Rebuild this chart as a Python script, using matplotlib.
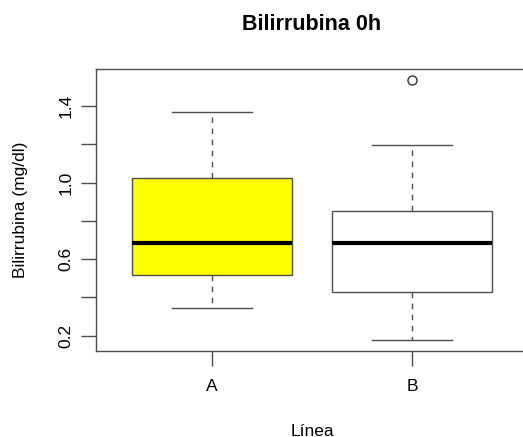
import matplotlib
matplotlib.use("Agg")
import matplotlib.pyplot as plt

categories = ["A", "B"]
q1 = [0.515, 0.430]
median = [0.686, 0.686]
q3 = [1.027, 0.854]
whislo = [0.345, 0.174]
whishi = [1.368, 1.197]
fliers = [[], [1.540]]
fill_colors = ["#FFFF00", "#FFFFFF"]
yticks = [0.2, 0.6, 1.0, 1.4]
yticks_minor = [0.4, 0.8, 1.2]

plt.rcParams['font.family'] = ['Liberation Sans', 'DejaVu Sans']

W, H = 523, 437
fig = plt.figure(figsize=(W/100, H/100), dpi=100)
L, R, T, B = 96, 528, 69, 351
ax = fig.add_axes([L/W, 1-B/H, (R-L)/W, (B-T)/H])

stats = []
for i, c in enumerate(categories):
    stats.append(dict(label=c, q1=q1[i], med=median[i], q3=q3[i],
                      whislo=whislo[i], whishi=whishi[i], fliers=fliers[i]))

edge = "#4d4d4d"
bp = ax.bxp(stats, positions=[1, 2], widths=0.8, patch_artist=True,
            showfliers=True,
            boxprops=dict(edgecolor=edge, linewidth=1.0),
            medianprops=dict(color="black", linewidth=3.0, solid_capstyle="butt"),
            whiskerprops=dict(color=edge, linewidth=1.0, linestyle=(0, (4, 4))),
            capprops=dict(color=edge, linewidth=1.0),
            capwidths=0.4,
            flierprops=dict(marker="o", markersize=6.5, markerfacecolor="none",
                            markeredgecolor="#333333", markeredgewidth=1.0))
for patch, col in zip(bp["boxes"], fill_colors):
    patch.set_facecolor(col)

ax.set_xlim(0.42, 2.58)
ax.set_ylim(0.119, 1.595)

for s in ax.spines.values():
    s.set_color(edge)
    s.set_linewidth(1.0)

fs = 12.5
ax.set_yticks(yticks + yticks_minor)
ax.set_yticklabels([f"{v:.1f}" if v in yticks else "" for v in yticks + yticks_minor],
                   rotation=90, va="center")
ax.tick_params(axis="y", length=11, width=1.0, color=edge, labelsize=fs, pad=5)
ax.set_xticks([1, 2])
ax.set_xticklabels(categories)
ax.tick_params(axis="x", length=11, width=1.0, color=edge, labelsize=fs, pad=9)

ax.set_ylabel("Bilirrubina (mg/dl)", fontsize=fs, va="center")
ax.yaxis.set_label_coords((21 - L) / (R - L), 0.5)
ax.set_xlabel("Línea", fontsize=fs, va="center")
ax.xaxis.set_label_coords((312 - L) / (R - L), -(431 - B) / (B - T))
fig.text(312/W, 1-25/H, "Bilirrubina 0h", ha="center", va="center",
         fontsize=15.5, fontweight="bold")

fig.savefig("out.png", dpi=100)
